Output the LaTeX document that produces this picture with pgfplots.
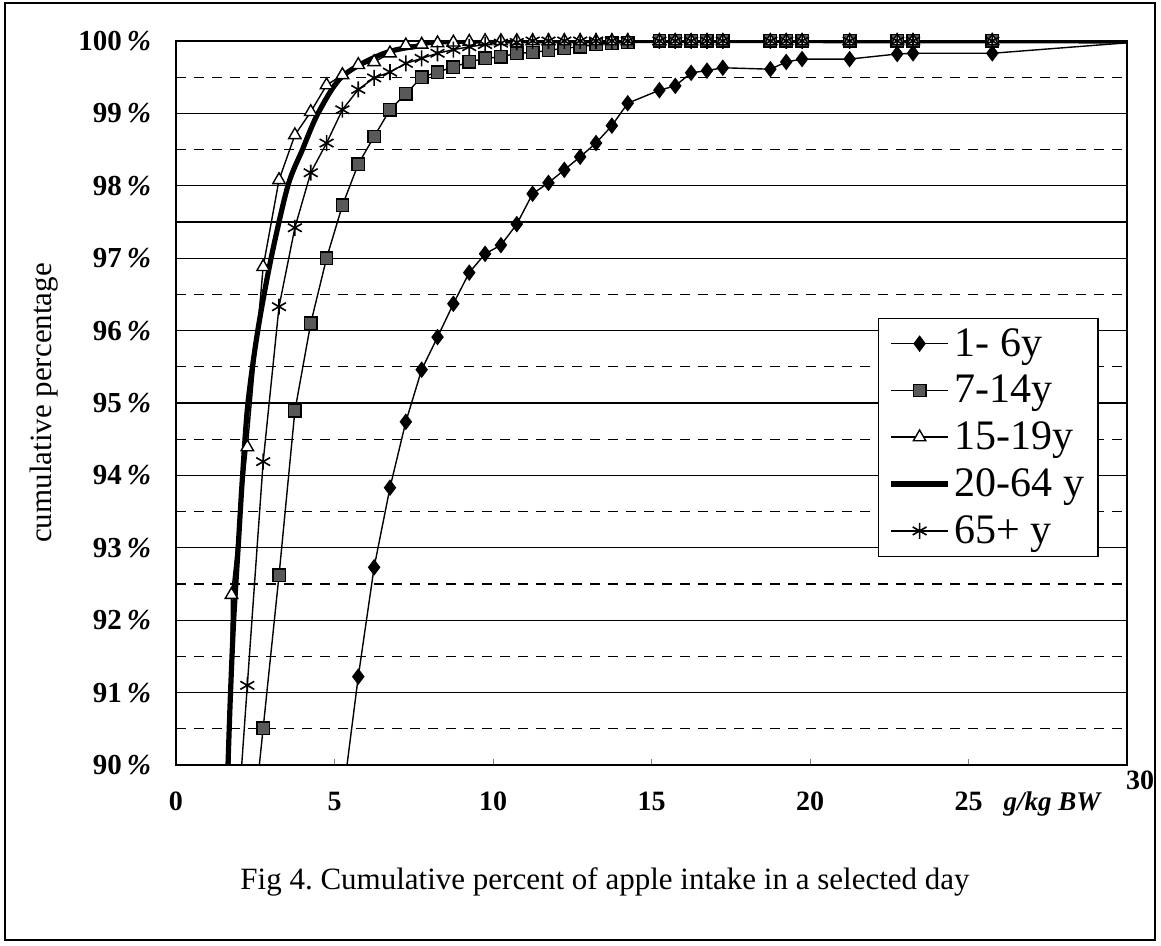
\documentclass[border=0pt]{standalone}
\usepackage{pgfplots}
\pgfplotsset{compat=1.18}
\usepackage{fontspec}
\setmainfont{Liberation Serif}
\begin{document}
\begin{tikzpicture}[x=1pt,y=1pt]
\useasboundingbox (-88,-90.5) rectangle (492.5,382.5);
\begin{axis}[at={(0,0)}, anchor=south west,
  scale only axis, width=475.5pt, height=362pt,
  xmin=0, xmax=30, ymin=90, ymax=100,
  axis line style={line width=0.8pt},
  xtick={0,5,10,15,20,25,30},
  xticklabels={0,5,10,15,20,25,},
  xtick pos=bottom, xtick align=inside, major tick length=3pt,
  xticklabel style={font=\bfseries\fontsize{14}{16}\selectfont, yshift=-10pt},
  ytick={90,91,...,100},
  yticklabels={90\,\textit{\%},91\,\textit{\%},92\,\textit{\%},93\,\textit{\%},94\,\textit{\%},95\,\textit{\%},96\,\textit{\%},97\,\textit{\%},98\,\textit{\%},99\,\textit{\%},100\,\textit{\%}},
  yticklabel style={font=\bfseries\fontsize{14.5}{16}\selectfont, xshift=-9pt},
  ytick style={draw=none},
  minor ytick={90.5,91.5,...,99.5},
  ymajorgrids, yminorgrids,
  major grid style={black, line width=0.6pt},
  minor grid style={black, line width=0.6pt, dash pattern=on 5pt off 4pt},
  ylabel={cumulative percentage},
  every axis y label/.style={at={(rel axis cs:0,0.5)}, xshift=-66pt, rotate=90, anchor=center, font=\fontsize{15.5}{17}\selectfont},
  legend style={at={(rel axis cs:0.738,0.618)}, anchor=north west, font=\fontsize{21}{23}\selectfont, draw=black, line width=0.7pt, fill=white, row sep=4pt, inner xsep=5pt, inner ysep=3pt},
  legend cell align=left,
  legend image code/.code={\draw[mark repeat=2,mark phase=2] plot coordinates {(0cm,0cm) (0.5cm,0cm) (1cm,0cm)};},
]
% reference line at 97.5%
\addplot[black, line width=1.4pt, forget plot] coordinates {(0,97.5) (30,97.5)};

% 1-6y
\addplot[black, line width=0.7pt, mark=diamond*, mark size=3.6pt, mark options={fill=black}] coordinates {
(5.25,89.5) (5.75,91.22) (6.25,92.73) (6.75,93.83) (7.25,94.74) (7.75,95.46) (8.25,95.91) (8.75,96.37) (9.25,96.80) (9.75,97.06)
(10.25,97.18) (10.75,97.47) (11.25,97.89) (11.75,98.04) (12.25,98.22) (12.75,98.40) (13.25,98.59) (13.75,98.83) (14.25,99.14)
(15.25,99.32) (15.75,99.38) (16.25,99.56) (16.75,99.59) (17.25,99.63) (18.75,99.61) (19.25,99.71) (19.75,99.75)
(21.25,99.75) (22.75,99.82) (23.25,99.83) (25.75,99.83) (30.75,100)};
\addlegendentry{1- 6y}

% 7-14y
\addplot[black, line width=0.7pt, mark=square*, mark size=3.1pt, mark options={fill=black!65, draw=black}] coordinates {
(2.25,88.4) (2.75,90.51) (3.25,92.62) (3.75,94.89) (4.25,96.10) (4.75,97.00) (5.25,97.73) (5.75,98.30) (6.25,98.68) (6.75,99.05)
(7.25,99.27) (7.75,99.50) (8.25,99.57) (8.75,99.64) (9.25,99.71) (9.75,99.76) (10.25,99.78) (10.75,99.83) (11.25,99.84)
(11.75,99.87) (12.25,99.9) (12.75,99.92) (13.25,99.95) (13.75,99.97) (14.25,99.98)
(15.25,100) (15.75,100) (16.25,100) (16.75,100) (17.25,100) (18.75,100) (19.25,100) (19.75,100)
(21.25,100) (22.75,100) (23.25,100) (25.75,100) (30.75,100)};
\addlegendentry{7-14y}

% 15-19y
\addplot[black, line width=0.7pt, mark=triangle*, mark size=3.6pt, mark options={fill=white, draw=black}] coordinates {
(1.25,70) (1.75,92.35) (2.25,94.39) (2.75,96.88) (3.25,98.08) (3.75,98.70) (4.25,99.02) (4.75,99.39) (5.25,99.53) (5.75,99.67)
(6.25,99.71) (6.75,99.83) (7.25,99.94) (7.75,99.95) (8.25,99.97) (8.75,99.98) (9.25,99.99) (9.75,100) (10.25,100) (10.75,100)
(11.25,100) (11.75,100) (12.25,100) (12.75,100) (13.25,100) (13.75,100) (14.25,100)
(15.25,100) (15.75,100) (16.25,100) (16.75,100) (17.25,100) (18.75,100) (19.25,100) (19.75,100)
(21.25,100) (22.75,100) (23.25,100) (25.75,100) (30.75,100)};
\addlegendentry{15-19y}

% 20-64y
\addplot[black, line width=2.6pt, smooth, no markers] coordinates {
(1.60,89.5) (1.64,90) (1.72,91) (1.82,92) (1.96,93) (2.10,94) (2.27,95) (2.58,96) (3.00,97) (3.53,98) (3.99,98.5)
(4.48,99) (5.22,99.5) (6.40,99.8) (7.50,99.92) (10,100) (30,100)};
\addlegendentry{20-64 y}

% 65+ y
\addplot[black, line width=0.7pt, mark=asterisk, mark size=4pt, mark options={line width=0.8pt}] coordinates {
(1.75,88.0) (2.25,91.10) (2.75,94.19) (3.25,96.33) (3.75,97.42) (4.25,98.18) (4.75,98.59) (5.25,99.05) (5.75,99.33) (6.25,99.49)
(6.75,99.57) (7.25,99.69) (7.75,99.76) (8.25,99.83) (8.75,99.88) (9.25,99.92) (9.75,99.95) (10.25,99.97) (10.75,99.98)
(11.25,100) (11.75,100) (12.25,100) (12.75,100) (13.25,100) (13.75,100) (14.25,100)
(15.25,100) (15.75,100) (16.25,100) (16.75,100) (17.25,100) (18.75,100) (19.25,100) (19.75,100)
(21.25,100) (22.75,100) (23.25,100) (25.75,100) (30.75,100)};
\addlegendentry{65+ y}
\end{axis}
\node[font=\bfseries\fontsize{14}{16}\selectfont] at (482,-7.5) {30};
\node[font=\bfseries\itshape\fontsize{13.5}{15}\selectfont] at (438,-19.5) {g/kg BW};
\node[font=\fontsize{15.5}{18}\selectfont] at (214.5,-58.5) {\frenchspacing Fig 4. Cumulative percent of apple intake in a selected day};
\draw[line width=0.7pt] (-85.5,-87.5) rectangle (489.5,381);
\end{tikzpicture}
\end{document}
